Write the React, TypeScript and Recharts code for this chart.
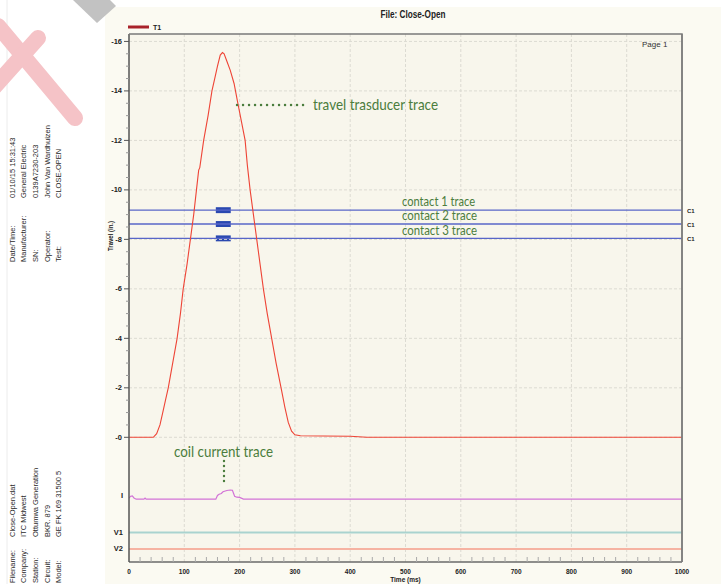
import React from 'react';
import {
  ComposedChart,
  Line,
  XAxis,
  YAxis,
  CartesianGrid,
  ReferenceLine,
  ReferenceArea,
} from 'recharts';

// T1 travel transducer, inches
const travelTime = [0, 44, 50, 56, 61, 66, 71, 79, 87, 93, 98, 105, 111, 117, 122, 126, 128, 135, 143, 150, 155, 160, 165, 169, 172, 177, 183, 190, 196, 203, 210, 214, 219, 225, 231, 237, 243, 250, 258, 266, 275, 282, 288, 294, 300, 310, 350, 400, 430, 1000];
const travelInches = [0, 0, 0.15, 0.5, 1.0, 1.5, 2.0, 3.0, 4.0, 5.0, 6.0, 7.0, 8.0, 9.0, 10.0, 10.8, 10.9, 12.0, 13.0, 14.0, 14.5, 15.0, 15.45, 15.55, 15.5, 15.2, 14.84, 14.3, 13.6, 12.8, 12.0, 11.0, 10.0, 9.0, 8.0, 7.0, 6.0, 5.0, 4.0, 3.0, 2.0, 1.2, 0.6, 0.25, 0.1, 0.06, 0.05, 0.04, 0, 0];

// coil current channel I, drawn in its strip under the travel scale
const coilTime = [0, 3, 6, 9, 13, 27, 29, 31, 157, 160, 163, 167, 170, 177, 183, 187, 191, 195, 200, 207, 1000];
const coilLevel = [-2.46, -2.38, -2.37, -2.45, -2.5, -2.5, -2.46, -2.5, -2.5, -2.35, -2.3, -2.27, -2.2, -2.15, -2.13, -2.14, -2.38, -2.42, -2.43, -2.5, -2.5];

// contact channels C1 and the open/close bars on them
const contactLevels = [9.18, 8.62, 8.04];
const contactNames = ['C1', 'C1', 'C1'];
const contactBarStart = [157, 157, 157];
const contactBarEnd = [184, 184, 184];

const channelNames = ['I', 'V1', 'V2'];
const channelLevels = [-2.36, -3.85, -4.51];
const v1Level = -3.85;
const v2Level = -4.51;

const travelMajor = [0, 2, 4, 6, 8, 10, 12, 14, 16];
const timeMajor = [0, 100, 200, 300, 400, 500, 600, 700, 800, 900, 1000];

const headerLabels = ['Date/Time:', 'Manufacturer:', 'SN:', 'Operator:', 'Test:'];
const headerValues = ['01/10/15 15:31:43', 'General Electric', '0139A7230-203', 'John Van Wardhuizen', 'CLOSE-OPEN'];
const footerLabels = ['Filename:', 'Company:', 'Station:', 'Circuit:', 'Model:'];
const footerValues = ['Close-Open.dat', 'ITC Midwest', 'Ottumwa Generation', 'BKR. 879', 'GE FK 169 31500 5'];

const FONT = '"Liberation Sans", Arial, sans-serif';
const HAND = '"Liberation Sans Narrow", Lato, "Open Sans", sans-serif';
const GREEN = '#4b7d3d';
const Y_DOMAIN: [number, number] = [-5.04, 16.3];

const travelData = travelTime.map((t, i) => ({ t, v: travelInches[i] }));
const coilData = coilTime.map((t, i) => ({ t, v: coilLevel[i] }));

const travelMinor: number[] = [];
for (let i = 1; i < 32; i++) {
  const v = i * 0.5;
  if (v % 2 !== 0) travelMinor.push(v);
}
const travelTicks = [...travelMajor, ...travelMinor, ...channelLevels];

const timeTicks: number[] = [];
for (let t = 0; t <= 1000; t += 20) timeTicks.push(t);

const columnX = [12, 23.7, 35.4, 47, 58.7];

function TravelTick(props: any) {
  const { x, y, payload } = props;
  const v = payload.value;
  const ch = channelLevels.indexOf(v);
  if (ch >= 0) {
    return (
      <text x={x - 6} y={y + 2.5} textAnchor="end" fontSize={7.5} fontWeight="bold" fill="#222" fontFamily={FONT}>
        {channelNames[ch]}
      </text>
    );
  }
  if (travelMajor.includes(v)) {
    return (
      <g>
        <line x1={x - 5} x2={x} y1={y} y2={y} stroke="#555" />
        <text x={x - 7} y={y + 2.5} textAnchor="end" fontSize={7.5} fontWeight="bold" fill="#222" fontFamily={FONT}>
          {`-${v}`}
        </text>
      </g>
    );
  }
  return <line x1={x - 3} x2={x} y1={y} y2={y} stroke="#999" />;
}

function TimeTick(props: any) {
  const { x, y, payload } = props;
  const v = payload.value;
  if (v % 100 === 0) {
    return (
      <text x={x} y={y + 11.5} textAnchor="middle" fontSize={6.5} fontWeight="bold" fill="#222" fontFamily={FONT}>
        {v}
      </text>
    );
  }
  return <line x1={x} x2={x} y1={y} y2={y - 5} stroke="#aaa" />;
}

function ContactTick(props: any) {
  const { x, y, payload } = props;
  const i = contactLevels.indexOf(payload.value);
  return (
    <text x={x + 5} y={y + 2.5} fontSize={6} fontWeight="bold" fill="#222" fontFamily={FONT}>
      {contactNames[i]}
    </text>
  );
}

function SideText({ x, y, text }: { x: number; y: number; text: string }) {
  return (
    <text
      x={x + 2.7}
      y={y}
      transform={`rotate(-90 ${x + 2.7} ${y})`}
      fontSize={7.5}
      fill="#2a2a2a"
      fontFamily={FONT}
    >
      {text}
    </text>
  );
}

export default function App() {
  return (
    <div style={{ position: 'absolute', left: 0, top: 0, width: 721, height: 584, background: '#fff', overflow: 'hidden' }}>
      <svg width={721} height={584} style={{ position: 'absolute', left: 0, top: 0 }}>
        <rect x={105} y={7} width={616} height={577} fill="#fbfaf2" />
        <line x1={7} x2={7} y1={0} y2={584} stroke="#ececec" />
        <polygon points="73,0 110,0 116,6 97,23" fill="#c2c2c2" />
        <line x1={-2} y1={26} x2={75} y2={118} stroke="#f5c3c7" strokeWidth={16} strokeLinecap="round" />
        <line x1={38} y1={38} x2={-12} y2={94} stroke="#f5c3c7" strokeWidth={16} strokeLinecap="round" />
        {headerLabels.map((s, i) => (
          <SideText key={'hl' + i} x={columnX[i]} y={262} text={s} />
        ))}
        {headerValues.map((s, i) => (
          <SideText key={'hv' + i} x={columnX[i]} y={198} text={s} />
        ))}
        {footerLabels.map((s, i) => (
          <SideText key={'fl' + i} x={columnX[i]} y={583} text={s} />
        ))}
        {footerValues.map((s, i) => (
          <SideText key={'fv' + i} x={columnX[i]} y={537} text={s} />
        ))}
      </svg>

      <div style={{ position: 'absolute', left: 0, top: 0 }}>
        <ComposedChart
          width={721}
          height={584}
          margin={{ top: 34, right: 0, bottom: 0, left: 0 }}
          style={{ fontFamily: FONT }}
        >
          <CartesianGrid xAxisId="time" yAxisId="travel" horizontal={false} vertical={false} fill="#f8f6ec" />
          <XAxis
            xAxisId="time"
            dataKey="t"
            type="number"
            domain={[0, 1000]}
            allowDataOverflow
            ticks={timeTicks}
            interval={0}
            tick={TimeTick}
            tickSize={0}
            tickMargin={0}
            tickLine={false}
            height={22}
            axisLine={{ stroke: '#6a6a6a', strokeWidth: 1.5 }}
            label={{ value: 'Time (ms)', position: 'insideBottom', offset: 2, fontSize: 6.5, fontWeight: 'bold', fill: '#222' }}
          />
          <YAxis
            yAxisId="travel"
            type="number"
            domain={Y_DOMAIN}
            allowDataOverflow
            ticks={travelTicks}
            interval={0}
            tick={TravelTick}
            tickSize={0}
            tickMargin={0}
            tickLine={false}
            width={129}
            axisLine={{ stroke: '#555', strokeWidth: 1.5 }}
          />
          <YAxis
            yAxisId="contact"
            orientation="right"
            type="number"
            domain={Y_DOMAIN}
            allowDataOverflow
            ticks={contactLevels}
            interval={0}
            tick={ContactTick}
            tickSize={0}
            tickMargin={0}
            tickLine={false}
            width={39}
            axisLine={{ stroke: '#888', strokeWidth: 1.5 }}
          />

          {timeMajor.slice(1, -1).map((t) => (
            <ReferenceLine key={'gx' + t} xAxisId="time" yAxisId="travel" x={t} stroke="#dcdbd2" strokeDasharray="3 2" />
          ))}
          {travelMajor.map((v) => (
            <ReferenceLine key={'gy' + v} xAxisId="time" yAxisId="travel" y={v} stroke="#dcdbd2" strokeDasharray="3 2" />
          ))}

          {contactLevels.map((lvl, i) => (
            <Line
              key={'c' + i}
              xAxisId="time"
              yAxisId="travel"
              data={[{ t: 0, v: lvl }, { t: 1000, v: lvl }]}
              dataKey="v"
              stroke="#5866c8"
              strokeWidth={1.4}
              dot={false}
              isAnimationActive={false}
            />
          ))}
          {contactLevels.map((lvl, i) => (
            <ReferenceArea
              key={'b' + i}
              xAxisId="time"
              yAxisId="travel"
              x1={contactBarStart[i]}
              x2={contactBarEnd[i]}
              y1={lvl - 0.12}
              y2={lvl + 0.12}
              fill="#2a48b0"
              fillOpacity={1}
              stroke="none"
            />
          ))}

          <Line
            xAxisId="time"
            yAxisId="travel"
            data={[{ t: 0, v: v1Level }, { t: 1000, v: v1Level }]}
            dataKey="v"
            stroke="#a9d3cf"
            strokeWidth={2}
            dot={false}
            isAnimationActive={false}
          />
          <Line
            xAxisId="time"
            yAxisId="travel"
            data={[{ t: 0, v: v2Level }, { t: 1000, v: v2Level }]}
            dataKey="v"
            stroke="#f6b3a2"
            strokeWidth={2}
            dot={false}
            isAnimationActive={false}
          />
          <Line
            xAxisId="time"
            yAxisId="travel"
            data={coilData}
            dataKey="v"
            stroke="#d273d6"
            strokeWidth={1.2}
            dot={false}
            isAnimationActive={false}
          />
          <Line
            xAxisId="time"
            yAxisId="travel"
            data={travelData}
            dataKey="v"
            stroke="#ee4436"
            strokeWidth={1.1}
            dot={false}
            isAnimationActive={false}
          />
        </ComposedChart>
      </div>

      <svg width={721} height={584} style={{ position: 'absolute', left: 0, top: 0, pointerEvents: 'none' }}>
        {/* plot frame (top and right edges) */}
        <polyline points="129,34 682,34 682,562" fill="none" stroke="#7a7a7a" strokeWidth={1.5} />
        <text x={413} y={18} textAnchor="middle" fontSize={10} fontWeight="bold" fill="#222" fontFamily={FONT} textLength={65} lengthAdjust="spacingAndGlyphs">
          File: Close-Open
        </text>
        <line x1={128} x2={149} y1={27} y2={27} stroke="#a8222a" strokeWidth={3} />
        <text x={153} y={30} fontSize={7} fontWeight="bold" fill="#222" fontFamily={FONT}>T1</text>
        <text x={642} y={47} fontSize={8} fill="#333" fontFamily={FONT}>Page 1</text>
        <text
          x={113}
          y={236}
          transform="rotate(-90 113 236)"
          textAnchor="middle"
          fontSize={6.5}
          fontWeight="bold"
          fill="#222"
          fontFamily={FONT}
          textLength={30}
          lengthAdjust="spacingAndGlyphs"
        >
          Travel (in.)
        </text>

        <line x1={237} x2={308} y1={105} y2={105} stroke={GREEN} strokeWidth={2.4} strokeDasharray="0.1 5.9" strokeLinecap="round" />
        <text x={313} y={110} fontSize={16} fill={GREEN} fontFamily={HAND} textLength={125} lengthAdjust="spacingAndGlyphs">
          travel trasducer trace
        </text>
        <text x={402} y={205.5} fontSize={12.5} fill={GREEN} fontFamily={HAND} textLength={73} lengthAdjust="spacingAndGlyphs">
          contact 1 trace
        </text>
        <text x={402} y={220} fontSize={12.5} fill={GREEN} fontFamily={HAND} textLength={75} lengthAdjust="spacingAndGlyphs">
          contact 2 trace
        </text>
        <text x={402} y={234.5} fontSize={12.5} fill={GREEN} fontFamily={HAND} textLength={75} lengthAdjust="spacingAndGlyphs">
          contact 3 trace
        </text>
        <text x={174} y={457} fontSize={16} fill={GREEN} fontFamily={HAND} textLength={99} lengthAdjust="spacingAndGlyphs">
          coil current trace
        </text>
        <line x1={224} x2={224} y1={461} y2={486} stroke={GREEN} strokeWidth={2.4} strokeDasharray="0.1 4.9" strokeLinecap="round" />
      </svg>
    </div>
  );
}
